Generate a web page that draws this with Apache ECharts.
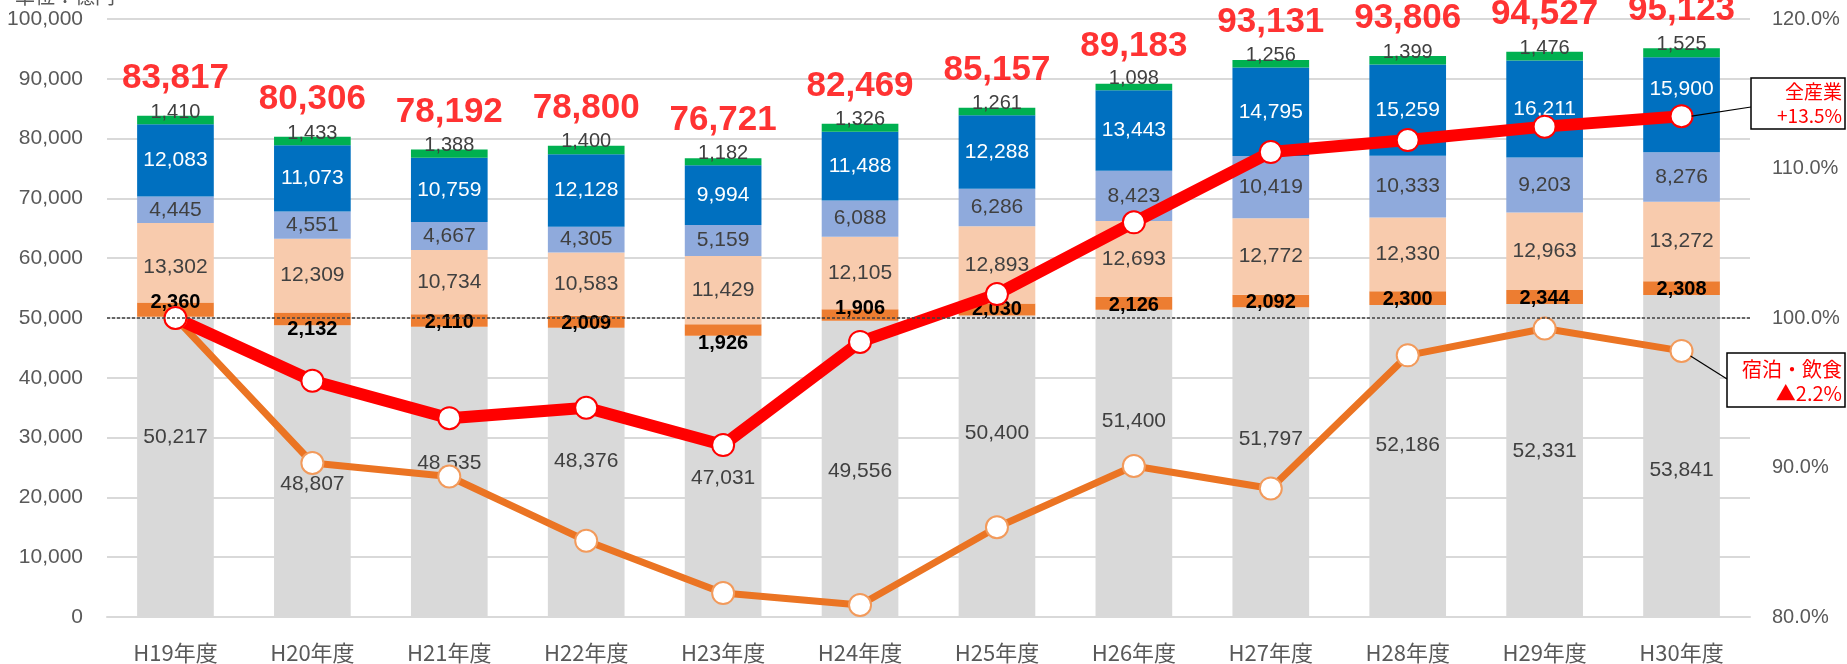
<!DOCTYPE html>
<html>
<head>
<meta charset="utf-8">
<script src="https://cdn.jsdelivr.net/npm/echarts@6/dist/echarts.min.js"></script>
<style>
html,body{margin:0;padding:0;background:#fff;}
#chart{width:1847px;height:664px;}
</style>
</head>
<body>
<div id="chart"></div>
<script>
// ---- data ----
const categories = ['H19年度','H20年度','H21年度','H22年度','H23年度','H24年度','H25年度','H26年度','H27年度','H28年度','H29年度','H30年度'];
const segGray      = [50217,48807,48535,48376,47031,49556,50400,51400,51797,52186,52331,53841];
const segAccom     = [2360,2132,2110,2009,1926,1906,2030,2126,2092,2300,2344,2308];
const segPeach     = [13302,12309,10734,10583,11429,12105,12893,12693,12772,12330,12963,13272];
const segLightBlue = [4445,4551,4667,4305,5159,6088,6286,8423,10419,10333,9203,8276];
const segBlue      = [12083,11073,10759,12128,9994,11488,12288,13443,14795,15259,16211,15900];
const segGreen     = [1410,1433,1388,1400,1182,1326,1261,1098,1256,1399,1476,1525];
const totals       = [83817,80306,78192,78800,76721,82469,85157,89183,93131,93806,94527,95123];
const indexAll     = [100.0,95.8,93.3,94.0,91.5,98.4,101.6,106.4,111.1,111.9,112.8,113.5];
const indexAccom   = [100.0,90.3,89.4,85.1,81.6,80.8,86.0,90.1,88.6,97.5,99.3,97.8];
const noteAll      = ['全産業','+13.5%'];
const noteAccom    = ['宿泊・飲食','▲2.2%'];
const unitText     = '単位：億円';

// ---- label placement (layout only) ----
const grayLabelDy  = [-30,13,-9,-11,2,2,-33,-42,-23,-16,-9,14];
const accomLabelDy = [-7,11,2,2,13,-6,0,2,1,1,1,1];
const peachLabelDy = [4,0,0,0,0,0,0,0,0,0,0,0];
const blueLabelDy  = [0,0,0,0,0,0,0,0,0,0,0,-16];

const chart = echarts.init(document.getElementById('chart'));
const labelFont = 'Liberation Sans, Arial, sans-serif';
const txt = '#404040';

function barSeries(name, values, color, labelOpt, dyArr){
  return {
    name: name, type: 'bar', stack: 'total', barWidth: '56%',
    itemStyle: {color: color},
    label: Object.assign({show: true, position: 'inside', fontFamily: labelFont, fontSize: 20, color: txt,
      formatter: p => p.value.toLocaleString('en-US')}, labelOpt || {}),
    data: values.map((v,i) => dyArr ? {value: v, label: {offset: [0, dyArr[i]]}} : v),
    z: 2
  };
}

const option = {
  animation: false,
  backgroundColor: '#fff',
  grid: {left: 107, right: 97, top: 19, bottom: 47, containLabel: false},
  xAxis: {
    type: 'category', data: categories,
    axisLine: {lineStyle: {color: '#d9d9d9', width: 2}},
    axisTick: {show: false},
    axisLabel: {color: '#595959', fontSize: 22, margin: 25, fontFamily: 'Noto Sans CJK JP, sans-serif'}
  },
  yAxis: [
    {type: 'value', min: 0, max: 100000, interval: 10000,
     axisLine: {show: false}, axisTick: {show: false},
     splitLine: {lineStyle: {color: '#d9d9d9', width: 2}},
     axisLabel: {color: '#595959', fontSize: 21, margin: 24, fontFamily: labelFont,
       formatter: v => v.toLocaleString('en-US')}},
    {type: 'value', min: 80, max: 120, interval: 10,
     axisLine: {show: false}, axisTick: {show: false}, splitLine: {show: false},
     axisLabel: {color: '#595959', fontSize: 20, margin: 22, fontFamily: labelFont,
       formatter: v => v.toFixed(1) + '%'}}
  ],
  series: [
    Object.assign(barSeries('その他', segGray, '#d9d9d9', {fontSize: 21}, grayLabelDy), {
      markLine: {symbol: 'none', silent: true, label: {show: false},
        lineStyle: {color: '#404040', type: [3, 2], width: 1.5},
        data: [{yAxis: 50000}]}
    }),
    barSeries('宿泊・飲食', segAccom, '#ed7d31', {color: '#000', fontWeight: 'bold', fontSize: 20}, accomLabelDy),
    barSeries('系列3', segPeach, '#f8cbad', {fontSize: 21}, peachLabelDy),
    barSeries('系列4', segLightBlue, '#8faadc', {fontSize: 21}),
    barSeries('系列5', segBlue, '#0070c0', {color: '#fff', fontSize: 21}, blueLabelDy),
    barSeries('系列6', segGreen, '#00b050', {fontSize: 20, offset: [0, -8]}),
    {
      name: '合計', type: 'scatter', data: totals, symbolSize: 1,
      itemStyle: {color: 'rgba(0,0,0,0)'}, z: 5, silent: true,
      label: {show: true, position: 'top', distance: 18, color: '#ff0000', fontSize: 35,
        fontWeight: 'bold', fontFamily: labelFont, lineHeight: 38,
        formatter: p => p.value.toLocaleString('en-US')}
    },
    {
      name: '宿泊・飲食指数', type: 'line', yAxisIndex: 1, data: indexAccom, z: 4,
      symbol: 'circle', symbolSize: 22,
      lineStyle: {color: '#eb7423', width: 7},
      itemStyle: {color: '#fff', borderColor: '#f29a5b', borderWidth: 2}
    },
    {
      name: '全産業指数', type: 'line', yAxisIndex: 1, data: indexAll, z: 4,
      symbol: 'circle', symbolSize: 22,
      lineStyle: {color: '#ff0000', width: 12},
      itemStyle: {color: '#fff', borderColor: '#ff0000', borderWidth: 2}
    }
  ]
};
chart.setOption(option);

// annotations
const last = categories.length - 1;
const pAll = chart.convertToPixel({seriesIndex: 8}, [last, indexAll[last]]);
const pAcc = chart.convertToPixel({seriesIndex: 7}, [last, indexAccom[last]]);
const boxAll = {x: 1751, y: 78, w: 94, h: 51};
const boxAcc = {x: 1727, y: 353, w: 118, h: 54};
const noteFont = 'Noto Sans CJK JP, sans-serif';
chart.setOption({
  graphic: [
    {type: 'line', z: 10, shape: {x1: pAll[0] + 10, y1: pAll[1], x2: boxAll.x, y2: boxAll.y + 29}, style: {stroke: '#000', lineWidth: 1.2}},
    {type: 'rect', z: 10, shape: {x: boxAll.x, y: boxAll.y, width: boxAll.w, height: boxAll.h}, style: {fill: '#fff', stroke: '#000', lineWidth: 1.5}},
    {type: 'text', z: 11, style: {x: boxAll.x + boxAll.w - 3, y: boxAll.y + 14, text: noteAll[0], fill: '#ff0000', font: '19px ' + noteFont, align: 'right', verticalAlign: 'middle'}},
    {type: 'text', z: 11, style: {x: boxAll.x + boxAll.w - 3, y: boxAll.y + 38, text: noteAll[1], fill: '#ff0000', font: '19px ' + noteFont, align: 'right', verticalAlign: 'middle'}},
    {type: 'line', z: 10, shape: {x1: pAcc[0] + 9, y1: pAcc[1] + 5, x2: boxAcc.x, y2: boxAcc.y + 26}, style: {stroke: '#000', lineWidth: 1.2}},
    {type: 'rect', z: 10, shape: {x: boxAcc.x, y: boxAcc.y, width: boxAcc.w, height: boxAcc.h}, style: {fill: '#fff', stroke: '#000', lineWidth: 1.5}},
    {type: 'text', z: 11, style: {x: boxAcc.x + boxAcc.w - 3, y: boxAcc.y + 16, text: noteAccom[0], fill: '#ff0000', font: '20px ' + noteFont, align: 'right', verticalAlign: 'middle'}},
    {type: 'text', z: 11, style: {x: boxAcc.x + boxAcc.w - 3, y: boxAcc.y + 40, text: noteAccom[1], fill: '#ff0000', font: '20px ' + noteFont, align: 'right', verticalAlign: 'middle'}},
    {type: 'text', z: 11, style: {x: 15, y: -14, text: unitText, fill: '#595959', font: '20px ' + noteFont}}
  ]
});
</script>
</body>
</html>
